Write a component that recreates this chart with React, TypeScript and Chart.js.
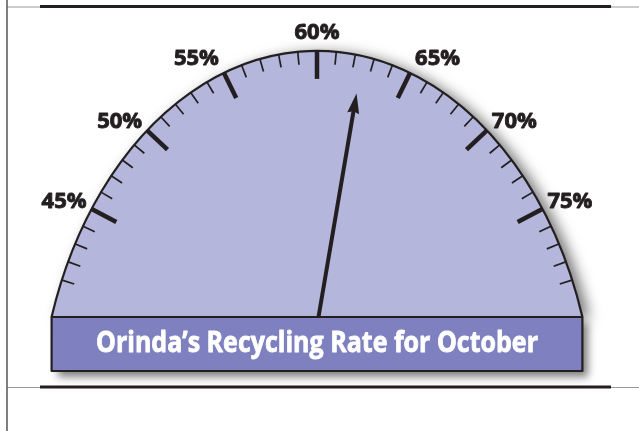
import React, { useEffect, useRef } from "react";
import { Chart, registerables } from "chart.js";

Chart.register(...registerables);

// ---- data ----
const SCALE_MIN = 40;
const SCALE_MAX = 80;
const MINOR_STEP = 1;
const MAJOR_VALUES = [45, 50, 55, 60, 65, 70, 75];
const TICK_LABELS = ["45%", "50%", "55%", "60%", "65%", "70%", "75%"];
const RECYCLING_RATE = 62.4;
const SEGMENT_LABELS = ["Recycled", "Not recycled"];
const SEGMENT_VALUES = [RECYCLING_RATE - SCALE_MIN, SCALE_MAX - RECYCLING_RATE];
const TITLE = "Orinda\u2019s Recycling Rate for October";

// ---- style ----
const W = 639;
const H = 431;
const DIAL_FILL = "#b4b6dc";
const BANNER_FILL = "#7e80bf";
const INK = "#231f20";
const ASPECT = 1.38; // vertical stretch of the dial
const SWEEP = 144; // degrees of the dial
const SCALE_SPAN = 0.953; // share of the rim used by the scale
const BANNER_H = 54;
const NEEDLE_FRAC = 0.857;

function geometry(chart: any) {
  const meta = chart.getDatasetMeta(0);
  const first = meta.data[0] as any;
  const last = meta.data[meta.data.length - 1] as any;
  const x0 = first.x;
  const y0 = first.y;
  const R = first.outerRadius;
  const a0 = first.startAngle;
  const a1 = last.endAngle;
  const baseY = chart.chartArea.bottom;
  const yc = y0 + R * Math.sin(a0);
  const cyE = baseY + ASPECT * (y0 - yc);
  const b = ASPECT * R;
  const tauMax = (a1 - a0) / 2;
  // arc-length table along the rim, from the top outwards
  const N = 600;
  const taus: number[] = [0];
  const lens: number[] = [0];
  for (let i = 1; i <= N; i++) {
    const t = (tauMax * i) / N;
    const tm = t - tauMax / N / 2;
    const ds = Math.sqrt(R * R * Math.cos(tm) ** 2 + b * b * Math.sin(tm) ** 2) * (tauMax / N);
    taus.push(t);
    lens.push(lens[i - 1] + ds);
  }
  const halfLen = lens[N];
  const tauAt = (s: number) => {
    const sign = s < 0 ? -1 : 1;
    const as = Math.min(Math.abs(s), halfLen);
    let lo = 0;
    let hi = N;
    while (hi - lo > 1) {
      const mid = (lo + hi) >> 1;
      if (lens[mid] < as) lo = mid;
      else hi = mid;
    }
    const f = (as - lens[lo]) / (lens[hi] - lens[lo] || 1);
    return sign * (taus[lo] + f * (taus[hi] - taus[lo]));
  };
  const mid = (SCALE_MIN + SCALE_MAX) / 2;
  const half = (SCALE_MAX - SCALE_MIN) / 2;
  const angle = (v: number) => -Math.PI / 2 + tauAt(((v - mid) / half) * SCALE_SPAN * halfLen);
  const pt = (a: number) => ({ x: x0 + R * Math.cos(a), y: cyE + b * Math.sin(a) });
  const normal = (a: number) => {
    let nx = Math.cos(a) / R;
    let ny = Math.sin(a) / b;
    const l = Math.hypot(nx, ny);
    return { x: nx / l, y: ny / l };
  };
  return { x0, y0, R, b, a0, a1, baseY, yc, cyE, angle, pt, normal };
}

const gaugePlugin = {
  id: "gaugeDecor",
  beforeDraw(chart: any) {
    const ctx = chart.ctx as CanvasRenderingContext2D;
    ctx.save();
    ctx.fillStyle = "#ffffff";
    ctx.fillRect(0, 0, chart.width, chart.height);
    const lines = [6.5, 387];
    for (const y of lines) {
      ctx.strokeStyle = "#9a9a9a";
      ctx.lineWidth = 1;
      ctx.beginPath();
      ctx.moveTo(7, y + 0.5);
      ctx.lineTo(chart.width, y + 0.5);
      ctx.stroke();
      ctx.strokeStyle = INK;
      ctx.lineWidth = 2.8;
      ctx.beginPath();
      ctx.moveTo(40, y);
      ctx.lineTo(611, y);
      ctx.stroke();
    }
    ctx.strokeStyle = "#555";
    ctx.lineWidth = 1.5;
    ctx.beginPath();
    ctx.moveTo(7, 0);
    ctx.lineTo(7, chart.height);
    ctx.stroke();
    ctx.restore();
  },
  beforeDatasetsDraw(chart: any) {
    const ctx = chart.ctx as CanvasRenderingContext2D;
    const g = geometry(chart);
    ctx.save();
    ctx.beginPath();
    ctx.ellipse(g.x0, g.cyE, g.R, g.b, 0, g.a0, g.a1);
    ctx.closePath();
    ctx.shadowColor = "rgba(0,0,0,0.55)";
    ctx.shadowBlur = 14;
    ctx.shadowOffsetX = 7;
    ctx.shadowOffsetY = 2;
    ctx.fillStyle = DIAL_FILL;
    ctx.fill();
    ctx.restore();
    ctx.save();
    ctx.beginPath();
    ctx.rect(0, 0, chart.width, g.baseY);
    ctx.clip();
    ctx.translate(0, g.baseY);
    ctx.scale(1, ASPECT);
    ctx.translate(0, -g.yc);
  },
  afterDatasetsDraw(chart: any) {
    const ctx = chart.ctx as CanvasRenderingContext2D;
    ctx.restore();
    const g = geometry(chart);

    ctx.save();
    ctx.strokeStyle = INK;
    ctx.lineWidth = 2.2;
    ctx.beginPath();
    ctx.ellipse(g.x0, g.cyE, g.R, g.b, 0, g.a0, g.a1);
    ctx.stroke();

    // ticks
    ctx.lineCap = "butt";
    for (let v = SCALE_MIN + MINOR_STEP; v < SCALE_MAX; v += MINOR_STEP) {
      const major = MAJOR_VALUES.includes(v);
      const a = g.angle(v);
      const p = g.pt(a);
      const n = g.normal(a);
      const len = major ? 28 : 13;
      ctx.lineWidth = major ? 4.5 : 1.7;
      ctx.beginPath();
      ctx.moveTo(p.x + n.x * 0.5, p.y + n.y * 0.5);
      ctx.lineTo(p.x - n.x * len, p.y - n.y * len);
      ctx.stroke();
    }

    // labels
    ctx.fillStyle = INK;
    ctx.strokeStyle = INK;
    ctx.lineWidth = 0.9;
    ctx.lineJoin = "round";
    ctx.font = 'bold 22px "Open Sans", "DejaVu Sans", sans-serif';
    ctx.textAlign = "center";
    ctx.textBaseline = "alphabetic";
    MAJOR_VALUES.forEach((v, i) => {
      const a = g.angle(v);
      const p = g.pt(a);
      const n = g.normal(a);
      const w = ctx.measureText(TICK_LABELS[i]).width;
      const dx = Math.max(-1, Math.min(1, n.x * 3)) * (w / 2 + 5);
      const dy = -(8 + 12 * n.y ** 4);
      const lx = p.x + dx;
      const ly = p.y + dy + 8;
      ctx.fillText(TICK_LABELS[i], lx, ly);
      ctx.strokeText(TICK_LABELS[i], lx, ly);
    });

    // needle
    const hx = g.x0 + 1.5;
    const hy = g.baseY;
    const t = g.pt(g.angle(RECYCLING_RATE));
    const dist = Math.hypot(t.x - hx, t.y - hy);
    const ux = (t.x - hx) / dist;
    const uy = (t.y - hy) / dist;
    const tipX = hx + ux * dist * NEEDLE_FRAC;
    const tipY = hy + uy * dist * NEEDLE_FRAC;
    const headLen = 20;
    const headHalf = 6;
    const bx = tipX - ux * headLen;
    const by = tipY - uy * headLen;
    ctx.strokeStyle = INK;
    ctx.lineWidth = 4;
    ctx.beginPath();
    ctx.moveTo(hx, hy);
    ctx.lineTo(bx + ux * 3, by + uy * 3);
    ctx.stroke();
    ctx.fillStyle = INK;
    ctx.beginPath();
    ctx.moveTo(tipX, tipY);
    ctx.lineTo(bx - uy * headHalf, by + ux * headHalf);
    ctx.lineTo(bx + ux * 2, by + uy * 2);
    ctx.lineTo(bx + uy * headHalf, by - ux * headHalf);
    ctx.closePath();
    ctx.fill();

    // banner
    const left = g.pt(g.a0).x;
    const right = g.pt(g.a1).x;
    ctx.save();
    ctx.shadowColor = "rgba(0,0,0,0.5)";
    ctx.shadowBlur = 8;
    ctx.shadowOffsetX = 6;
    ctx.shadowOffsetY = 6;
    ctx.fillStyle = BANNER_FILL;
    ctx.fillRect(left, g.baseY, right - left, BANNER_H);
    ctx.restore();
    ctx.strokeStyle = INK;
    ctx.lineWidth = 2.2;
    ctx.strokeRect(left, g.baseY, right - left, BANNER_H);

    ctx.fillStyle = "#ffffff";
    ctx.strokeStyle = "#ffffff";
    ctx.lineWidth = 0.8;
    ctx.font = 'bold 28px "Open Sans", "DejaVu Sans", sans-serif';
    ctx.textAlign = "center";
    ctx.textBaseline = "alphabetic";
    const tw = ctx.measureText(TITLE).width;
    const sx = Math.min(1, 442 / tw);
    ctx.save();
    ctx.translate(g.x0, g.baseY + 35);
    ctx.scale(sx, 1);
    ctx.fillText(TITLE, 0, 0);
    ctx.strokeText(TITLE, 0, 0);
    ctx.restore();
    ctx.restore();
  },
};

export default function App() {
  const ref = useRef<HTMLCanvasElement>(null);
  useEffect(() => {
    if (!ref.current) return;
    const chart = new Chart(ref.current, {
      type: "doughnut",
      data: {
        labels: SEGMENT_LABELS,
        datasets: [
          {
            data: SEGMENT_VALUES,
            backgroundColor: [DIAL_FILL, DIAL_FILL],
            borderWidth: 0,
          },
        ],
      },
      options: {
        responsive: false,
        animation: false,
        circumference: SWEEP,
        rotation: -SWEEP / 2,
        cutout: 0,
        layout: { padding: { left: 51.6, right: 56.6, top: 10, bottom: 114 } },
        plugins: {
          legend: { display: false },
          tooltip: { enabled: false },
        },
      },
      plugins: [gaugePlugin],
    });
    return () => chart.destroy();
  }, []);
  return (
    <div style={{ position: "fixed", left: 0, top: 0, width: W, height: H, background: "#fff" }}>
      <canvas ref={ref} width={W} height={H} style={{ display: "block", width: W, height: H }} />
    </div>
  );
}
